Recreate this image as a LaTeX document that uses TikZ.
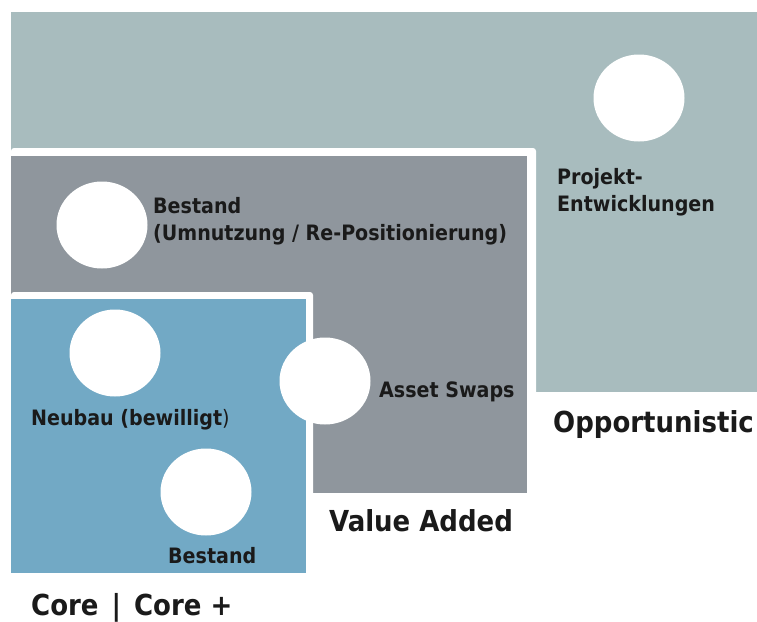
\documentclass[tikz,border=0pt]{standalone}
\usepackage{fontspec}
\setmainfont{DejaVu Sans Condensed}
\usetikzlibrary{shapes.geometric}
\definecolor{teal1}{HTML}{A8BCBE}
\definecolor{gray1}{HTML}{8F969D}
\definecolor{blue1}{HTML}{72A9C5}
\definecolor{ink}{HTML}{1A1A1A}
\tikzset{
  blob/.style={ellipse, fill=white, minimum width=91pt, minimum height=87pt, inner sep=0pt},
  lbl/.style={inner sep=0pt, text=ink, font=\bfseries\fontsize{21.2}{26.5}\selectfont, align=left, anchor=base west},
  big/.style={inner sep=0pt, text=ink, font=\bfseries\fontsize{28.9}{32}\selectfont, anchor=base west},
}
\begin{document}
\begin{tikzpicture}[x=1pt,y=-1pt]
\useasboundingbox (0,0) rectangle (757,621);
\fill[white] (0,0) rectangle (757,621);
% opportunistic area
\fill[teal1] (11,12) rectangle (757,392);
% value added area
\fill[white, rounded corners=3pt] (11,148) rectangle (536,497);
\fill[gray1] (11,156) rectangle (527,493);
% core area
\fill[white, rounded corners=3pt] (11,292) rectangle (313,575);
\fill[blue1] (11,299) rectangle (306,573);
% circles
\node[blob] (cproj) at (639,98) {};
\node[blob] (cbest) at (102,225) {};
\node[blob] (cneu) at (115,353) {};
\node[blob] (ccore) at (206,492) {};
\node[blob] (cswap) at (325,381) {};
% labels
\node[lbl] (tproj) at (557,211) {Projekt-\\Entwicklungen};
\node[lbl] (tbest) at (153,240) {Bestand\\(Umnutzung / Re-Positionierung)};
\node[lbl] (tswap) at (379,397) {Asset Swaps};
\node[lbl] (tneu) at (31,425) {Neubau (bewilligt{\mdseries )}};
\node[lbl] (tcore) at (168,563) {Bestand};
\node[big] (lcore) at (31,615) {Core{\kern4pt} |{\kern4pt} Core +};
\node[big] (lva) at (329,531) {Value Added};
\node[big] (lopp) at (553,432) {Opportunistic};
\end{tikzpicture}
\end{document}
